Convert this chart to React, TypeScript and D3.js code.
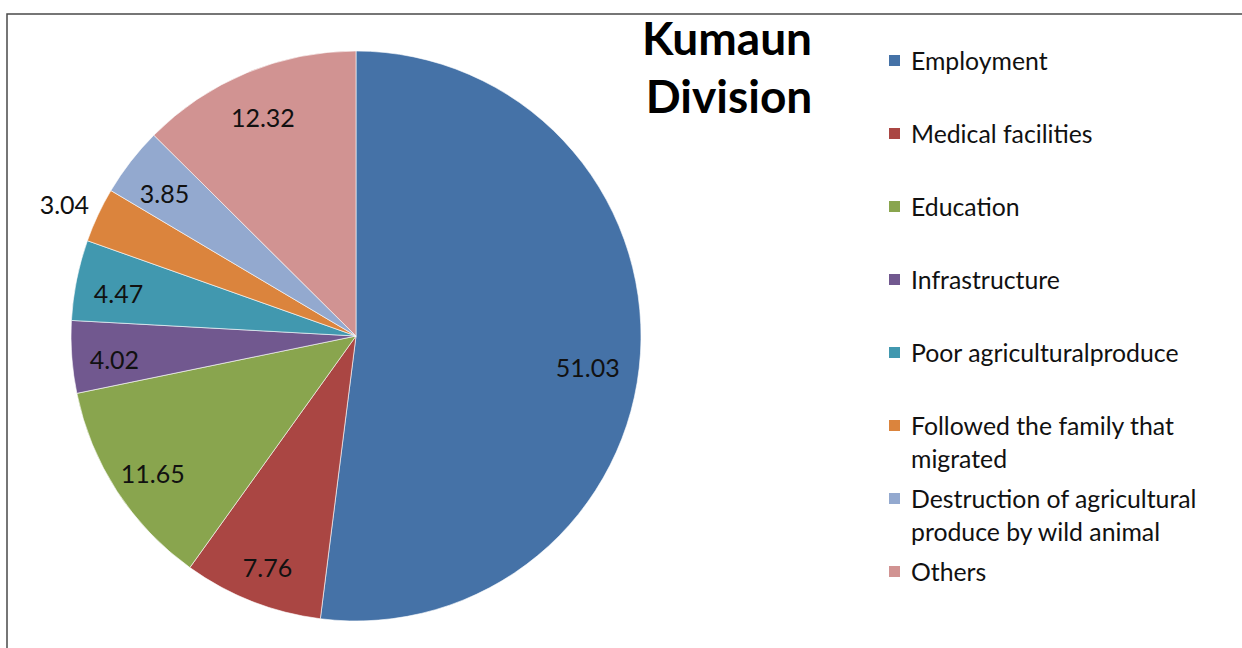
import React from "react";
import * as d3 from "d3";

// Kumaun Division - reasons for migration (%)
const categories = [
  "Employment",
  "Medical facilities",
  "Education",
  "Infrastructure",
  "Poor agriculturalproduce",
  "Followed the family that migrated",
  "Destruction of agricultural produce by wild animal",
  "Others",
];
const values = [51.03, 7.76, 11.65, 4.02, 4.47, 3.04, 3.85, 12.32];
// legend text as wrapped in the original
const legendLines = [
  ["Employment"],
  ["Medical facilities"],
  ["Education"],
  ["Infrastructure"],
  ["Poor agriculturalproduce"],
  ["Followed the family that", "migrated"],
  ["Destruction of agricultural", "produce by wild animal"],
  ["Others"],
];
const colors = ["#4572A7", "#AA4643", "#89A54E", "#71588F", "#4198AF", "#DB843D", "#93A9CF", "#D19392"];

const W = 1242;
const H = 648;
const cx = 356;
const cy = 336;
const radius = 285;
const font = "Lato, 'Open Sans', sans-serif";

export default function App() {
  const pie = d3.pie<number>().sort(null).value((d) => d);
  const arcs = pie(values);
  const arc = d3.arc<d3.PieArcDatum<number>>().innerRadius(0).outerRadius(radius);
  const color = d3.scaleOrdinal<string, string>().domain(categories).range(colors);

  const labelPos = (d: d3.PieArcDatum<number>) => {
    const mid = (d.startAngle + d.endAngle) / 2;
    // small slice with no room gets its label outside, like excel did
    const r = d.value < 3.5 ? radius * 1.13 : radius * 0.85;
    return [Math.sin(mid) * r, -Math.cos(mid) * r];
  };

  return (
    <div style={{ position: "absolute", left: 0, top: 0 }}>
      <svg width={W} height={H} style={{ display: "block", background: "#fff" }}>
        <rect x={7} y={14} width={W + 20} height={H + 20} fill="none" stroke="#4a4a4a" strokeWidth={1.5} />
        <g transform={`translate(${cx},${cy})`}>
          {arcs.map((d, i) => (
            <path key={i} d={arc(d) || ""} fill={color(categories[i])} stroke="#fff" strokeWidth={0.6} />
          ))}
          {arcs.map((d, i) => {
            const [x, y] = labelPos(d);
            return (
              <text
                key={i}
                x={i === 0 ? x - 10 : x}
                y={i === 0 ? y + 16 : y + 5}
                textAnchor="middle"
                dominantBaseline="central"
                fontFamily={font}
                fontSize={25}
                fill="#111"
              >
                {values[i].toFixed(2)}
              </text>
            );
          })}
        </g>
        <text x={727} y={55} textAnchor="middle" fontFamily={font} fontWeight="bold" fontSize={46} fill="#000">
          Kumaun
        </text>
        <text x={729} y={113} textAnchor="middle" fontFamily={font} fontWeight="bold" fontSize={46} fill="#000">
          Division
        </text>
        <g>
          {legendLines.map((lines, i) => {
            const y = 60 + i * 73;
            return (
              <g key={i}>
                <rect x={889} y={y - 5} width={11} height={11} fill={colors[i]} />
                {lines.map((t, j) => (
                  <text
                    key={j}
                    x={911}
                    y={y + j * 33}
                    dominantBaseline="central"
                    fontFamily={font}
                    fontSize={24.8}
                    fill="#111"
                  >
                    {t}
                  </text>
                ))}
              </g>
            );
          })}
        </g>
      </svg>
    </div>
  );
}
